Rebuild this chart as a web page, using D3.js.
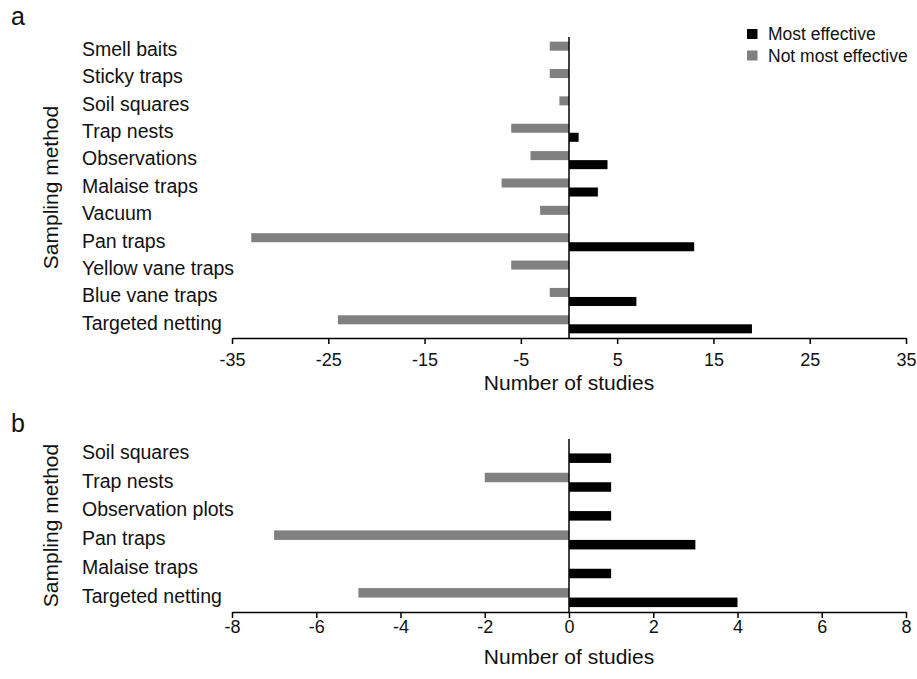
<!DOCTYPE html>
<html><head><meta charset="utf-8">
<script src="https://cdn.jsdelivr.net/npm/d3@7"></script>
<style>
html,body{margin:0;padding:0;background:#fff;}
svg{display:block;font-family:"Liberation Sans",Arial,sans-serif;}
</style></head>
<body>
<svg id="chart" width="917" height="679"></svg>
<script>
// ---- data ----
const categoriesA = ["Smell baits","Sticky traps","Soil squares","Trap nests","Observations","Malaise traps","Vacuum","Pan traps","Yellow vane traps","Blue vane traps","Targeted netting"];
const mostEffectiveA = [0,0,0,1,4,3,0,13,0,7,19];
const notMostEffectiveA = [2,2,1,6,4,7,3,33,6,2,24];
const ticksA = [-35,-25,-15,-5,5,15,25,35];

const categoriesB = ["Soil squares","Trap nests","Observation plots","Pan traps","Malaise traps","Targeted netting"];
const mostEffectiveB = [1,1,1,3,1,4];
const notMostEffectiveB = [0,2,0,7,0,5];
const ticksB = [-8,-6,-4,-2,0,2,4,6,8];

const seriesNames = ["Most effective","Not most effective"];
const colors = {most:"#000000", not:"#808080"};

const svg = d3.select("#chart");
const textColor = "#111";

function panel(opts){
  const {cats, most, not, ticks, domain, y0, y1, letter, letterY, tickY, titleY} = opts;
  const x = d3.scaleLinear().domain(domain).range([232, 906]);
  const y = d3.scaleBand().domain(cats).range([y0, y1]).paddingInner(0.34).paddingOuter(0.17);
  const g = svg.append("g");
  const bw = y.bandwidth()/2;

  // not most effective (grey, upper, negative)
  g.selectAll("rect.not").data(cats.map((c,i)=>({c, v:-not[i]})).filter(d=>d.v!==0))
    .join("rect").attr("class","not")
    .attr("x", d=>x(Math.min(0,d.v))).attr("width", d=>Math.abs(x(d.v)-x(0)))
    .attr("y", d=>y(d.c)).attr("height", bw).attr("fill", colors.not);
  // most effective (black, lower, positive)
  g.selectAll("rect.most").data(cats.map((c,i)=>({c, v:most[i]})).filter(d=>d.v!==0))
    .join("rect").attr("class","most")
    .attr("x", d=>x(Math.min(0,d.v))).attr("width", d=>Math.abs(x(d.v)-x(0)))
    .attr("y", d=>y(d.c)+bw).attr("height", bw).attr("fill", colors.most);

  // zero line
  g.append("line").attr("x1", x(0)).attr("x2", x(0)).attr("y1", y0).attr("y2", y1)
    .attr("stroke","#000").attr("stroke-width",1.5);

  // x axis
  const ax = g.append("g").attr("transform",`translate(0,${y1})`)
    .call(d3.axisBottom(x).tickValues(ticks).tickSize(6).tickSizeOuter(0).tickFormat(d=>String(d)));
  ax.select(".domain").attr("stroke","#000").attr("stroke-width",1.5);
  ax.selectAll(".tick line").attr("stroke","#000").attr("stroke-width",1.5);
  ax.selectAll(".tick text").attr("font-size",18).attr("fill",textColor)
    .attr("font-family","Liberation Sans, Arial, sans-serif").attr("dy","0.35em").attr("y",tickY);

  // category labels
  g.selectAll("text.cat").data(cats).join("text").attr("class","cat")
    .attr("x",82).attr("y", d=>y(d)+y.bandwidth()/2 - 1.5).attr("dy","0.35em")
    .attr("font-size",19.5).attr("fill",textColor).text(d=>d);

  // axis titles
  g.append("text").attr("x", (232+906)/2).attr("y", y1+titleY).attr("text-anchor","middle")
    .attr("font-size",21).attr("fill",textColor).text("Number of studies");
  g.append("text").attr("transform",`translate(58,${(y0+y1)/2}) rotate(-90)`).attr("text-anchor","middle")
    .attr("font-size",21).attr("fill",textColor).text("Sampling method");

  // panel letter
  svg.append("text").attr("x",11).attr("y",letterY).attr("font-size",25).attr("fill",textColor).text(letter);
}

panel({cats:categoriesA, most:mostEffectiveA, not:notMostEffectiveA, ticks:ticksA, domain:[-35,35], y0:37, y1:338, letter:"a", letterY:25, tickY:22, titleY:52});
panel({cats:categoriesB, most:mostEffectiveB, not:notMostEffectiveB, ticks:ticksB, domain:[-8,8], y0:439, y1:612, letter:"b", letterY:432, tickY:15, titleY:52});

// legend
const leg = svg.append("g");
const legItems = [{name:seriesNames[0], c:colors.most},{name:seriesNames[1], c:colors.not}];
leg.selectAll("rect").data(legItems).join("rect")
  .attr("x",747).attr("y",(d,i)=>29+i*21.5).attr("width",10.5).attr("height",10).attr("fill",d=>d.c);
leg.selectAll("text").data(legItems).join("text")
  .attr("x",768).attr("y",(d,i)=>34+i*21.5).attr("dy","0.35em")
  .attr("font-size",17.5).attr("fill",textColor).text(d=>d.name);
</script>
</body></html>
